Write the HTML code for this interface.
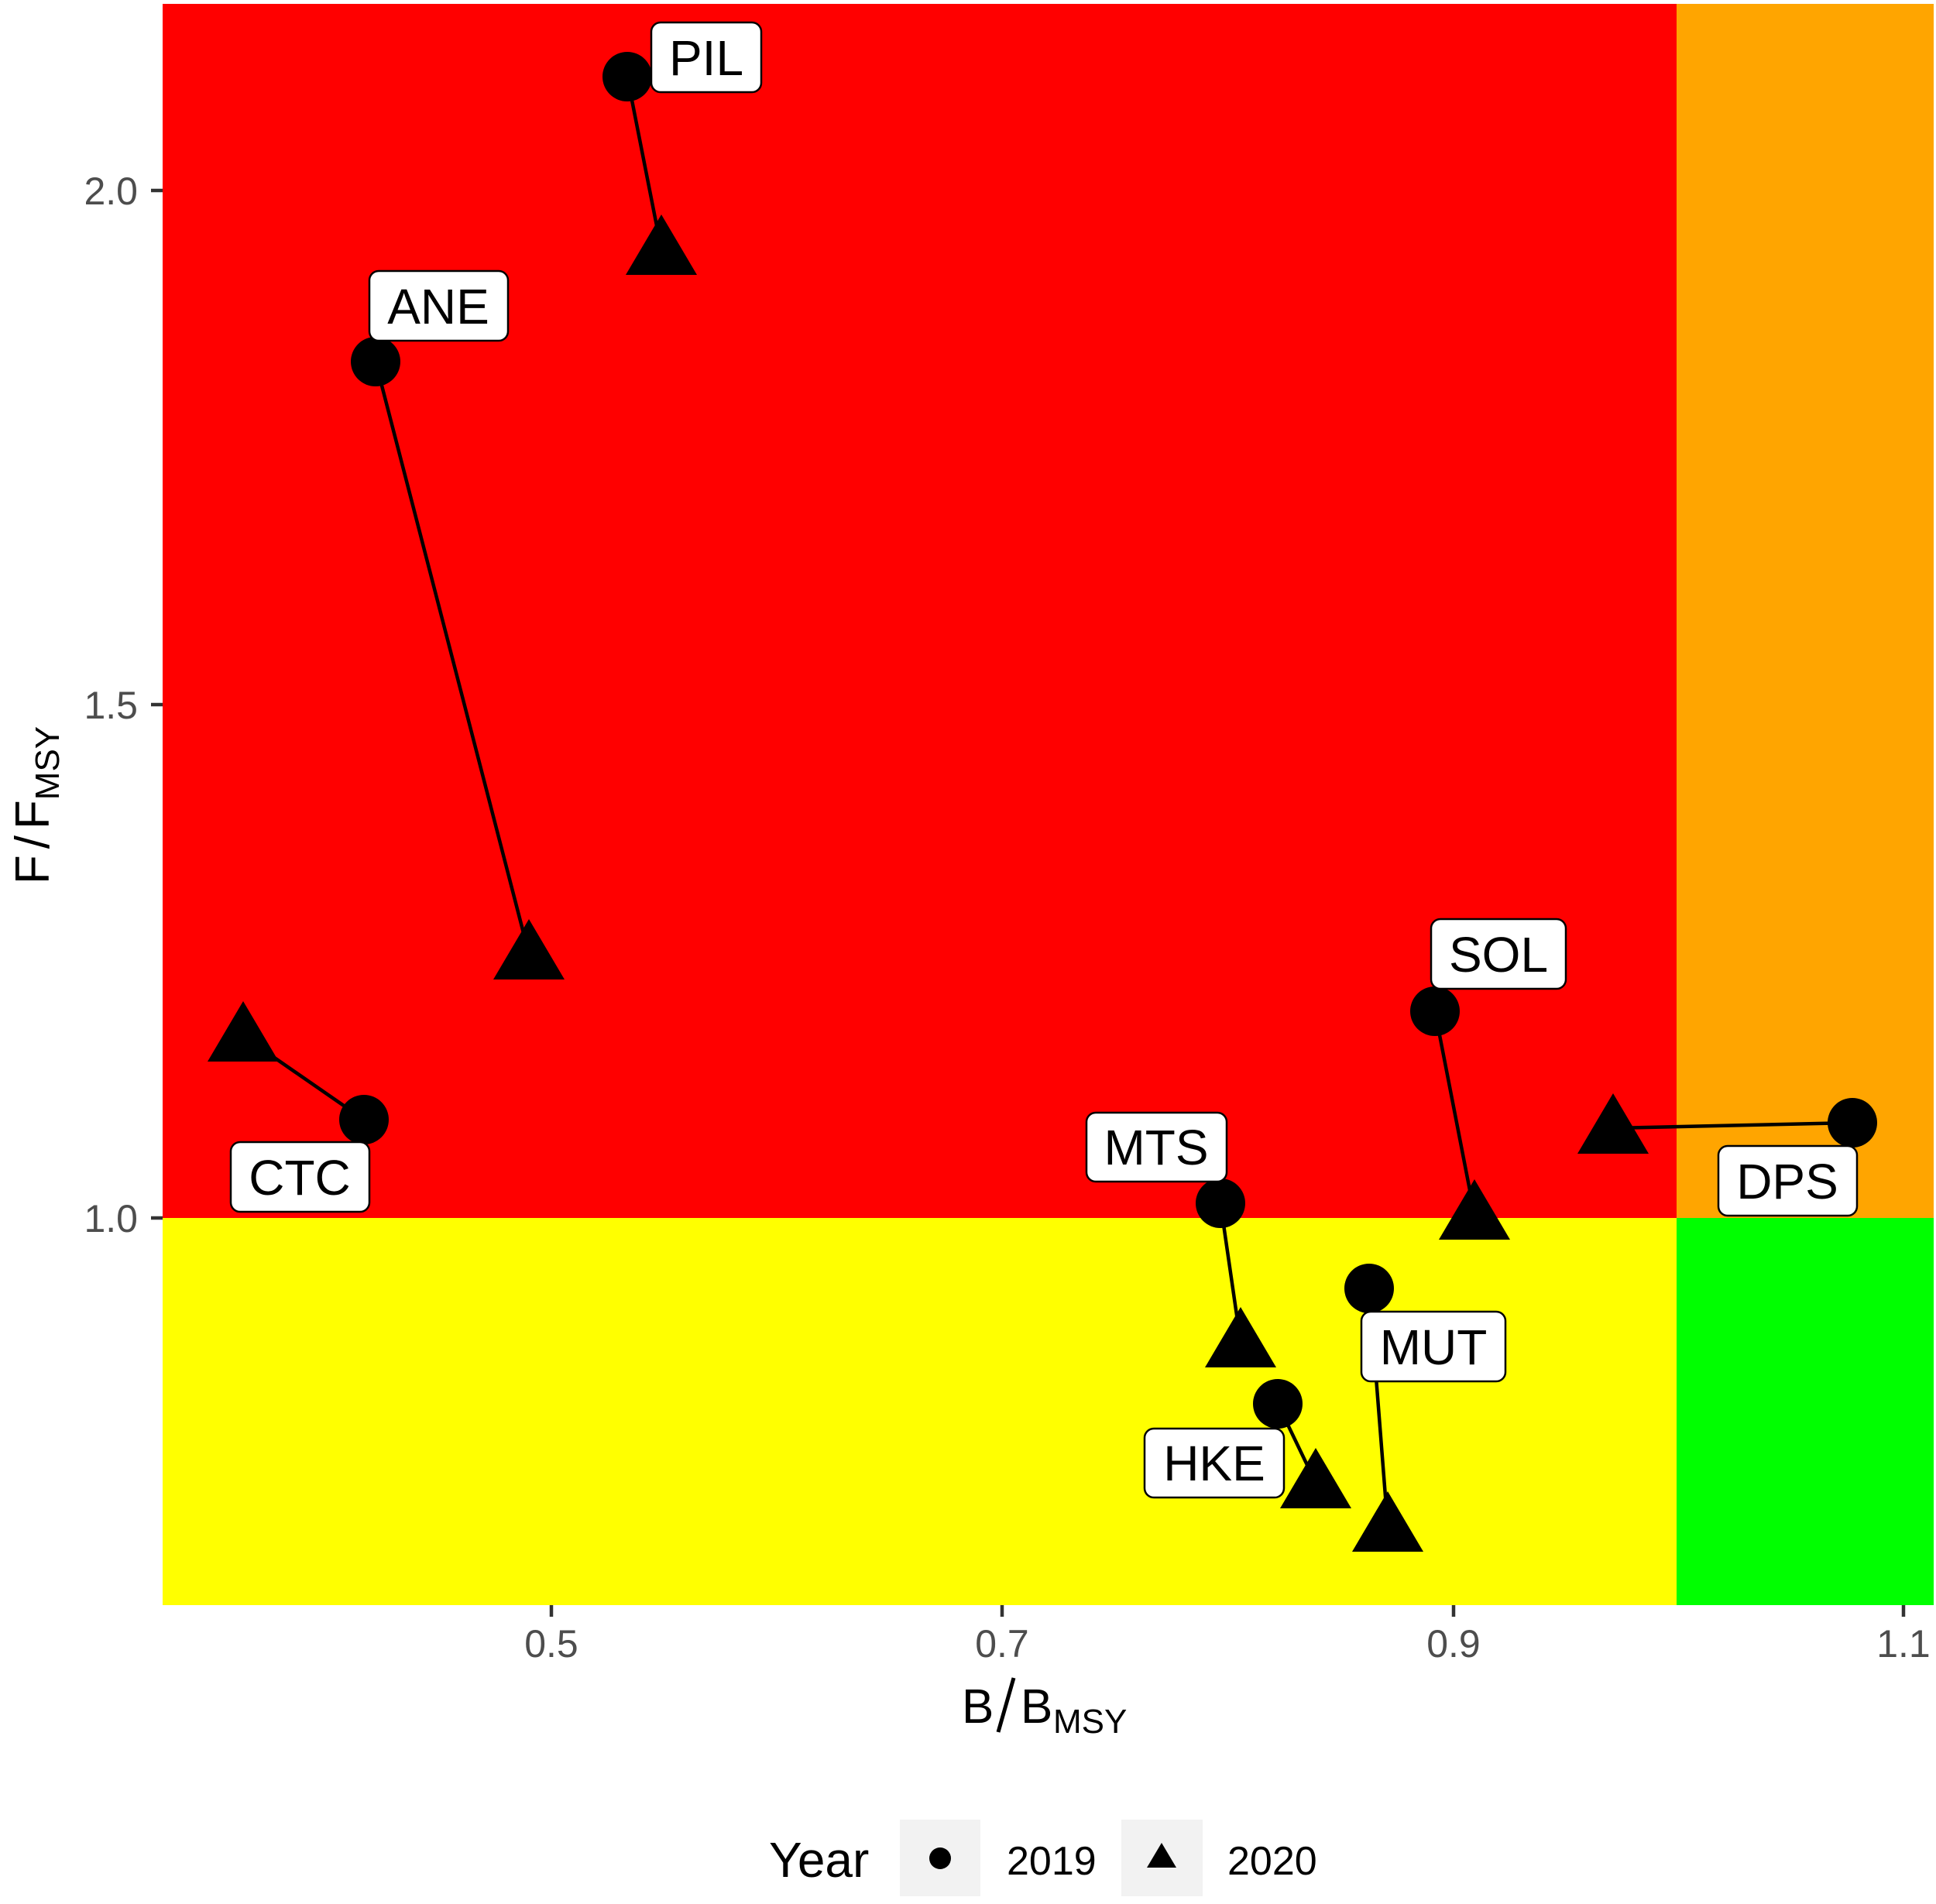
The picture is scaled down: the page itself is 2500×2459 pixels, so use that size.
<!DOCTYPE html>
<html><head><meta charset="utf-8"><style>
html,body{margin:0;padding:0;background:#fff;}
svg{display:block;font-family:"Liberation Sans",Arial,sans-serif;}
</style></head><body>
<svg width="2500" height="2459" viewBox="0 0 2500 2459" xmlns="http://www.w3.org/2000/svg">
<rect x="0" y="0" width="2500" height="2459" fill="#fff"/>
<rect x="210" y="5" width="1955" height="1568" fill="#ff0000"/>
<rect x="2165" y="5" width="332" height="1568" fill="#ffa500"/>
<rect x="210" y="1573" width="1955" height="500" fill="#ffff00"/>
<rect x="2165" y="1573" width="332" height="500" fill="#00ff00"/>
<g stroke="#333" stroke-width="4.5">
<line x1="195" y1="246" x2="210" y2="246"/>
<line x1="195" y1="910" x2="210" y2="910"/>
<line x1="195" y1="1573" x2="210" y2="1573"/>
<line x1="712" y1="2073" x2="712" y2="2088"/>
<line x1="1294" y1="2073" x2="1294" y2="2088"/>
<line x1="1877" y1="2073" x2="1877" y2="2088"/>
<line x1="2458" y1="2073" x2="2458" y2="2088"/>
</g>
<g fill="#4d4d4d" font-size="50">
<text x="178" y="264" text-anchor="end">2.0</text>
<text x="178" y="928" text-anchor="end">1.5</text>
<text x="178" y="1591" text-anchor="end">1.0</text>
<text x="712" y="2140" text-anchor="middle">0.5</text>
<text x="1294" y="2140" text-anchor="middle">0.7</text>
<text x="1877" y="2140" text-anchor="middle">0.9</text>
<text x="2458" y="2140" text-anchor="middle">1.1</text>
</g>
<text x="1242" y="2225" font-size="62">B</text>
<line x1="1309" y1="2167" x2="1289" y2="2237" stroke="#000" stroke-width="5"/>
<text x="1318" y="2225" font-size="62">B</text>
<text x="1360" y="2238" font-size="44">MSY</text>
<g transform="translate(63,1040) rotate(-90)">
<text x="0" y="0" font-size="62" text-anchor="middle">F<tspan dx="8">/</tspan><tspan dx="8">F</tspan><tspan font-size="44" dy="13">MSY</tspan></text>
</g>
<g stroke="#000" stroke-width="4.5">
<line x1="810" y1="99" x2="854" y2="322"/>
<line x1="485" y1="467" x2="683" y2="1232"/>
<line x1="470" y1="1446" x2="314" y2="1338"/>
<line x1="1853" y1="1306" x2="1904" y2="1568"/>
<line x1="2392" y1="1450" x2="2083" y2="1457"/>
<line x1="1576" y1="1554" x2="1602" y2="1733"/>
<line x1="1768" y1="1664" x2="1792" y2="1971"/>
<line x1="1650" y1="1813" x2="1699" y2="1915"/>
</g>
<g fill="#000">
<circle cx="810" cy="99" r="32"/>
<circle cx="485" cy="467" r="32"/>
<circle cx="470" cy="1446" r="32"/>
<circle cx="1853" cy="1306" r="32"/>
<circle cx="2392" cy="1450" r="32"/>
<circle cx="1576" cy="1554" r="32"/>
<circle cx="1768" cy="1664" r="32"/>
<circle cx="1650" cy="1813" r="32"/>
</g>
<g fill="#000">
<path d="M854,277 L900,355 L808,355 Z"/>
<path d="M683,1187 L729,1265 L637,1265 Z"/>
<path d="M314,1293 L360,1371 L268,1371 Z"/>
<path d="M1904,1523 L1950,1601 L1858,1601 Z"/>
<path d="M2083,1412 L2129,1490 L2037,1490 Z"/>
<path d="M1602,1688 L1648,1766 L1556,1766 Z"/>
<path d="M1792,1926 L1838,2004 L1746,2004 Z"/>
<path d="M1699,1870 L1745,1948 L1653,1948 Z"/>
</g>
<g fill="#fff" stroke="#000" stroke-width="2.5">
<rect x="841" y="29" width="142" height="90" rx="12"/>
<rect x="477" y="350" width="179" height="90" rx="12"/>
<rect x="298" y="1475" width="179" height="90" rx="12"/>
<rect x="1848" y="1187" width="174" height="90" rx="12"/>
<rect x="2219" y="1480" width="179" height="90" rx="12"/>
<rect x="1403" y="1437" width="181" height="89" rx="12"/>
<rect x="1758" y="1694" width="186" height="90" rx="12"/>
<rect x="1478" y="1845" width="180" height="89" rx="12"/>
</g>
<g fill="#000" font-size="64" text-anchor="middle">
<text x="912" y="97">PIL</text>
<text x="566" y="418">ANE</text>
<text x="387" y="1543">CTC</text>
<text x="1935" y="1255">SOL</text>
<text x="2308" y="1548">DPS</text>
<text x="1493" y="1504">MTS</text>
<text x="1851" y="1762">MUT</text>
<text x="1568" y="1912">HKE</text>
</g>
<text x="993" y="2424" font-size="64">Year</text>
<rect x="1162" y="2350" width="104" height="99" fill="#f2f2f2"/>
<rect x="1448" y="2350" width="105" height="99" fill="#f2f2f2"/>
<ellipse cx="1214" cy="2400" rx="14" ry="14" fill="#000"/>
<path d="M1500,2380 L1519,2412 L1481,2412 Z" fill="#000"/>
<text x="1300" y="2421" font-size="52">2019</text>
<text x="1585" y="2421" font-size="52">2020</text>
</svg>
</body></html>
